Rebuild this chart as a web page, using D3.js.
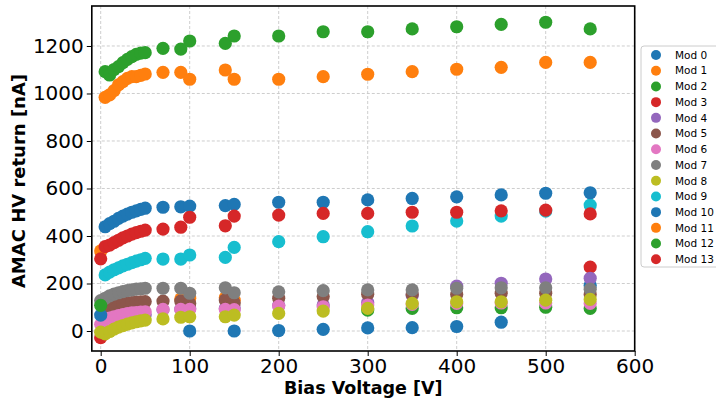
<!DOCTYPE html>
<html>
<head>
<meta charset="utf-8">
<script src="https://cdn.jsdelivr.net/npm/d3@7"></script>
<style>
  html, body { margin: 0; padding: 0; background: #fff; }
  svg { display: block; font-family: "DejaVu Sans", sans-serif; }
</style>
</head>
<body>
<svg id="chart" width="716" height="400"></svg>
<script>
const n = null;
const voltages = [0, 5, 10, 15, 20, 25, 30, 35, 40, 45, 50, 70, 90, 100, 140, 150, 200, 250, 300, 350, 400, 450, 500, 550];

const mod0  = [n, n, n, n, n, n, n, n, n, n, n, n, n, 0, n, 0, 2, 7, 13, 14, 19, 37, n, 192];
const mod1  = [n, n, n, n, n, n, n, n, n, n, n, n, 135, 138, 140, 130, n, n, n, n, n, n, n, n];
const mod2  = [n, n, n, n, n, n, n, n, n, n, n, n, n, n, n, n, n, n, 88, 95, 98, 98, 100, 95];
const mod3  = [-28, n, n, n, n, n, n, n, n, n, n, n, n, n, n, n, n, n, n, n, n, n, n, 269];
const mod4  = [n, 48, 55, 59, 62, 64, 66, 67, 68, 68, 68, 90, 92, 95, 95, 97, 108, 110, 120, 150, 189, 201, 219, 222];
const mod5  = [n, 96, 103, 108, 112, 115, 118, 120, 122, 123, 124, 126, 126, 116, 131, 118, 138, 145, 155, 154, 154, 159, 159, 154];
const mod6  = [28, 46, 54, 60, 65, 69, 73, 76, 78, 80, 81, 91, 91, 91, 91, 90, 105, 102, 109, 112, 116, 118, 118, 116];
const mod7  = [128, 138, 148, 155, 161, 166, 170, 173, 176, 178, 180, 180, 180, 159, 182, 161, 165, 170, 173, 173, 180, 182, 182, 176];
const mod8  = [-5, -12, -2, 8, 16, 23, 29, 34, 39, 43, 46, 51, 58, 60, 60, 67, 74, 84, 95, 116, 123, 123, 130, 133];
const mod9  = [n, 236, 248, 258, 266, 274, 281, 288, 294, 300, 306, 303, 303, 320, 310, 352, 376, 397, 418, 442, 463, 484, 505, 530];
const mod10 = [67, 439, 452, 462, 474, 484, 492, 500, 506, 512, 517, 521, 523, 526, 528, 533, 542, 542, 552, 558, 565, 573, 580, 582];
const mod11 = [337, 984, 994, 1012, 1036, 1050, 1064, 1071, 1071, 1076, 1082, 1089, 1089, 1060, 1099, 1060, 1060, 1071, 1081, 1092, 1102, 1110, 1131, 1131];
const mod12 = [108, 1092, 1078, 1101, 1113, 1130, 1144, 1155, 1165, 1170, 1172, 1190, 1187, 1221, 1211, 1242, 1242, 1260, 1260, 1272, 1281, 1291, 1300, 1272];
const mod13 = [304, 355, 362, 372, 382, 392, 400, 408, 414, 420, 425, 429, 437, 479, 443, 484, 488, 495, 495, 500, 500, 506, 509, 493];

const seriesNames = ["Mod 0", "Mod 1", "Mod 2", "Mod 3", "Mod 4", "Mod 5", "Mod 6", "Mod 7", "Mod 8", "Mod 9", "Mod 10", "Mod 11", "Mod 12", "Mod 13"];
const seriesValues = [mod0, mod1, mod2, mod3, mod4, mod5, mod6, mod7, mod8, mod9, mod10, mod11, mod12, mod13];
const xTicks = [0, 100, 200, 300, 400, 500, 600];
const yTicks = [0, 200, 400, 600, 800, 1000, 1200];
const xTitle = "Bias Voltage [V]";
const yTitle = "AMAC HV return [nA]";
const palette = ["#1f77b4", "#ff7f0e", "#2ca02c", "#d62728", "#9467bd", "#8c564b", "#e377c2", "#7f7f7f", "#bcbd22", "#17becf"];

const svg = d3.select("#chart");
const L = 91.8, R = 634.7, T = 6, B = 351;
const x = d3.scaleLinear().domain([-10, 600]).range([L, R]);
const y = d3.scaleLinear().domain([-84.2, 1368.4]).range([B, T]);

// grid
const grid = svg.append("g");
grid.selectAll("line.gx").data(xTicks).join("line")
  .attr("x1", d => x(d)).attr("x2", d => x(d)).attr("y1", T).attr("y2", B)
  .attr("stroke", "#c8c8c8").attr("stroke-width", 0.9).attr("stroke-dasharray", "3,2");
grid.selectAll("line.gy").data(yTicks).join("line")
  .attr("x1", L).attr("x2", R).attr("y1", d => y(d)).attr("y2", d => y(d))
  .attr("stroke", "#c8c8c8").attr("stroke-width", 0.9).attr("stroke-dasharray", "3,2");

// points
svg.append("clipPath").attr("id", "clip").append("rect")
  .attr("x", L).attr("y", T).attr("width", R - L).attr("height", B - T);
const pts = svg.append("g").attr("clip-path", "url(#clip)");
seriesValues.forEach((vals, i) => {
  const data = voltages.map((v, j) => ({ v, val: vals[j] })).filter(d => d.val !== null);
  pts.append("g").selectAll("circle").data(data).join("circle")
    .attr("cx", d => x(d.v)).attr("cy", d => y(d.val)).attr("r", 6.6)
    .attr("fill", palette[i % 10]);
});

// axes
const xAxis = d3.axisBottom(x).tickValues(xTicks).tickSize(5).tickPadding(3).tickFormat(d3.format("d"));
const yAxis = d3.axisLeft(y).tickValues(yTicks).tickSize(5).tickPadding(3).tickFormat(d3.format("d"));
const gx = svg.append("g").attr("transform", `translate(0,${B})`).call(xAxis);
const gy = svg.append("g").attr("transform", `translate(${L},0)`).call(yAxis);
[gx, gy].forEach(g => {
  g.select(".domain").remove();
  g.selectAll("text").attr("font-size", 20).attr("font-family", "DejaVu Sans, sans-serif").attr("fill", "#000");
  g.selectAll("line").attr("stroke", "#000").attr("stroke-width", 1);
});

// frame
svg.append("rect").attr("x", L).attr("y", T).attr("width", R - L).attr("height", B - T)
  .attr("fill", "none").attr("stroke", "#000").attr("stroke-width", 1.6);

// titles
svg.append("text").attr("x", (L + R) / 2).attr("y", 394).attr("text-anchor", "middle")
  .attr("font-size", 17.5).attr("font-weight", "bold").text(xTitle);
svg.append("text").attr("transform", "translate(25,181) rotate(-90)").attr("text-anchor", "middle")
  .attr("font-size", 18).attr("font-weight", "bold").text(yTitle);

// legend
const lg = svg.append("g");
lg.append("rect").attr("x", 641).attr("y", 46).attr("width", 80).attr("height", 221)
  .attr("rx", 3).attr("fill", "#fff").attr("fill-opacity", 0.8).attr("stroke", "#cccccc").attr("stroke-width", 1);
const rowY = d3.scaleLinear().domain([0, 13]).range([55, 259.3]);
seriesNames.forEach((name, i) => {
  lg.append("circle").attr("cx", 656).attr("cy", rowY(i)).attr("r", 5).attr("fill", palette[i % 10]);
  lg.append("text").attr("x", 675).attr("y", rowY(i)).attr("dy", "0.36em")
    .attr("font-size", 10.5).attr("fill", "#000").text(name);
});
</script>
</body>
</html>
